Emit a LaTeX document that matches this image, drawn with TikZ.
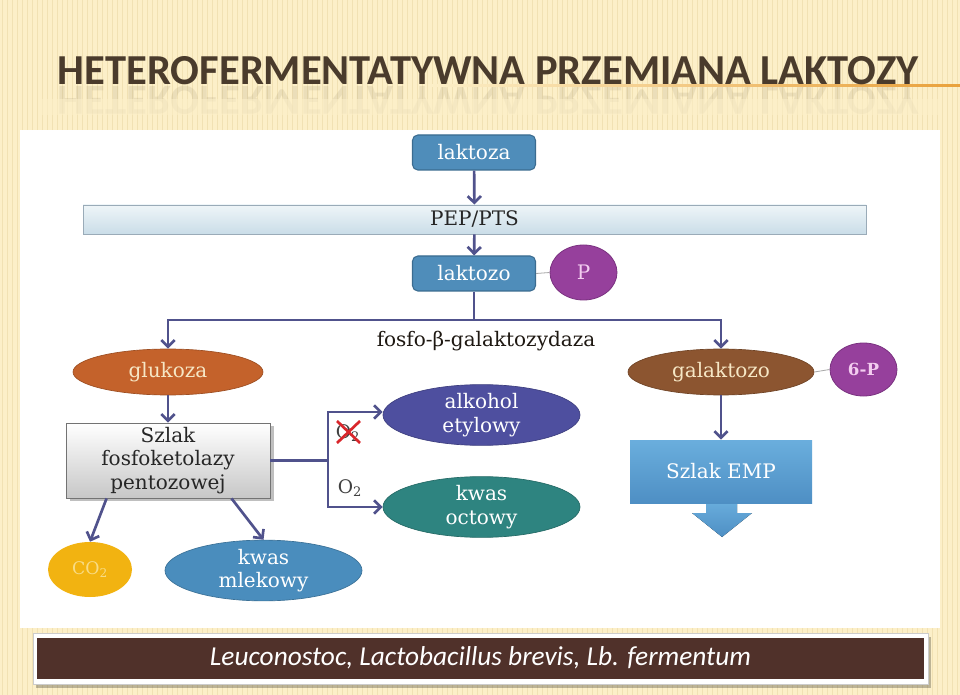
\documentclass[tikz,border=0pt]{standalone}
\usepackage{fontspec}
\setmainfont{DejaVu Serif}
\newfontfamily\titlefont{Carlito}
\usetikzlibrary{shapes.geometric,arrows.meta,calc}
\definecolor{bgc}{HTML}{FCEFC8}
\definecolor{stripec}{HTML}{EBD8A6}
\definecolor{titlec}{HTML}{4A3B2C}
\definecolor{orangel}{HTML}{E9A13B}
\definecolor{arrowc}{HTML}{50528C}
\definecolor{bluebox}{HTML}{4F8DBA}
\definecolor{blueboxd}{HTML}{3B6C90}
\definecolor{purp}{HTML}{96409C}
\definecolor{purpd}{HTML}{7A3280}
\definecolor{purpt}{HTML}{F3CDF0}
\definecolor{gluc}{HTML}{C4622B}
\definecolor{galc}{HTML}{8C5530}
\definecolor{creamt}{HTML}{F6E7C5}
\definecolor{alcc}{HTML}{4E4F9F}
\definecolor{octc}{HTML}{2E8480}
\definecolor{co2c}{HTML}{F2B311}
\definecolor{co2t}{HTML}{F8DC86}
\definecolor{mlekc}{HTML}{4A8DBD}
\definecolor{empt}{HTML}{6AAEDD}
\definecolor{empb}{HTML}{4E8FC4}
\definecolor{pept}{HTML}{EEF5F8}
\definecolor{pepb}{HTML}{CADDE8}
\definecolor{pepd}{HTML}{9AABB8}
\definecolor{bannerc}{HTML}{50312A}
\definecolor{xred}{HTML}{D9262B}
\tikzset{
  lbl/.style={font=\fontsize{15}{17.5}\selectfont, align=center, inner sep=0pt},
  rbox/.style={lbl, rectangle, rounded corners=4pt, fill=bluebox, draw=blueboxd, line width=0.8pt,
     text=white, minimum width=92.25pt, minimum height=26.25pt},
  pcirc/.style={lbl, ellipse, fill=purp, draw=purpd, line width=0.6pt, text=purpt},
  oval/.style={lbl, ellipse, text=creamt},
  arr/.style={draw=arrowc, line width=2pt, -{Straight Barb[length=5pt,width=10pt]}},
  ln/.style={draw=arrowc, line width=2pt},
  thin/.style={draw=gray!70, line width=0.6pt},
}
\begin{document}
\begin{tikzpicture}[x=0.75pt,y=-0.75pt]
\useasboundingbox (0,0) rectangle (960,695);
% background
\fill[bgc] (0,0) rectangle (960,695);
\foreach \xx in {2,7,...,960} \draw[stripec, line width=0.7pt, opacity=0.6] (\xx,0) -- (\xx,695);
% title
\node[inner sep=0pt, text=titlec, opacity=0.09] (titlerefl) at (488,100)
  {\scalebox{1}[-1]{\resizebox{645pt}{21pt}{\titlefont\bfseries HETEROFERMENTATYWNA PRZEMIANA LAKTOZY}}};
\fill[bgc, opacity=0.6] (40,99) rectangle (940,115);
\shade[left color=bgc, right color=orangel] (430,84.5) rectangle (960,87);
\node[inner sep=0pt, text=titlec] (title) at (488,71)
  {\resizebox{645pt}{21pt}{\titlefont\bfseries HETEROFERMENTATYWNA PRZEMIANA LAKTOZY}};
% white panel
\fill[white] (20,130) rectangle (940,628);
% banner
\fill[black, opacity=0.25] (36,637) rectangle (931,688);
\fill[white] (33,633) rectangle (928,684);
\draw[gray!40, line width=0.5pt] (33,633) rectangle (928,684);
\fill[bannerc] (37,637.5) rectangle (924,679);
\node[inner sep=0pt, text=white, font=\titlefont\itshape\fontsize{20.5}{20.5}\selectfont] (banner) at (480.5,658)
  {Leuconostoc, Lactobacillus brevis, Lb. fermentum};
% nodes
\node[rbox] (laktoza) at (474,152.5) {laktoza};
\node[lbl, rectangle, top color=pept, bottom color=pepb, draw=pepd, line width=0.6pt,
  minimum width=587.25pt, minimum height=21.75pt, text=black!85] (pep) at (474.5,219.5) {PEP/PTS};
\node[rbox] (laktozo) at (474,273.5) {laktozo};
\node[pcirc, minimum width=50.25pt, minimum height=41.25pt] (P) at (583.5,272.5) {P};
\node[oval, fill=gluc, draw=gluc!80!black, line width=0.5pt, minimum width=142.5pt, minimum height=34.5pt] (glukoza) at (168,372) {glukoza};
\node[oval, fill=galc, draw=galc!80!black, line width=0.5pt, minimum width=139.5pt, minimum height=34.5pt] (galaktozo) at (721,372) {galaktozo};
\node[pcirc, minimum width=50.25pt, minimum height=39.75pt, font=\bfseries\fontsize{12.5}{14}\selectfont] (sixp) at (863.5,369.5) {6-P};
\node[lbl, text=titlec!40!black] (fosfo) at (486,341) {fosfo-β-galaktozydaza};
\fill[black, opacity=0.25] (70,426) rectangle (274,501);
\node[lbl, rectangle, top color=white, bottom color=black!22, draw=black!55, line width=0.6pt,
  minimum width=153pt, minimum height=56.25pt, text=black!85] (szlak) at (168,460.5)
  {Szlak\\fosfoketolazy\\pentozowej};
\node[oval, fill=alcc, draw=alcc!80!black, line width=0.5pt, text=white, minimum width=147.75pt, minimum height=40.5pt] (alkohol) at (481.5,415) {alkohol\\etylowy};
\node[oval, fill=octc, draw=octc!80!black, line width=0.5pt, text=white, minimum width=147.75pt, minimum height=39pt] (octowy) at (481.5,507) {kwas\\octowy};
\node[oval, fill=co2c, minimum width=63pt, minimum height=41.25pt, text=co2t, font=\fontsize{13}{15}\selectfont] (co2) at (90,569.5) {CO\textsubscript{2}};
\node[oval, fill=mlekc, draw=mlekc!80!black, line width=0.5pt, text=white, minimum width=147.75pt, minimum height=38.25pt] (mlekowy) at (263.5,570.5) {kwas\\mlekowy};
% EMP block arrow
\fill[top color=empt, bottom color=empb] (706,500) -- (737,500) -- (737,513) -- (752,513) -- (722,537) -- (692,513) -- (706,513) -- cycle;
\node[lbl, rectangle, top color=empt, bottom color=empb, minimum width=136.5pt, minimum height=47.25pt, text=white] (emp) at (721,471.5) {Szlak EMP};
% O2 labels
\node[lbl, text=black!75, font=\fontsize{14}{16}\selectfont] (o2x) at (348,433) {O\textsubscript{2}};
\draw[xred, line width=2pt] (337,421) -- (360,443);
\draw[xred, line width=2pt] (337,443) -- (360,421);
\node[lbl, text=black!75, font=\fontsize{14}{16}\selectfont] (o2) at (350,488) {O\textsubscript{2}};
% connectors
\coordinate (split) at (474,320);
\coordinate (fork) at (328,460.5);
\draw[arr] (laktoza) -- (pep);
\draw[arr] (pep) -- (laktozo);
\draw[thin] (laktozo.east) -- (P.west);
\draw[thin] (galaktozo.east) -- (sixp.west);
\draw[ln] (laktozo.south) -- (split);
\draw[arr] (split) -| (glukoza.north);
\draw[arr] (split) -| (galaktozo.north);
\draw[arr] (glukoza) -- (szlak);
\draw[arr] (galaktozo) -- (emp);
\draw[ln] (szlak.east) -- (fork);
\draw[arr] (fork) |- ([yshift=2.25pt]alkohol.west);
\draw[arr] (fork) |- (octowy.west);
\draw[arr] ($(szlak.south west)!0.2!(szlak.south east)$) -- (co2.north);
\draw[arr] ($(szlak.south west)!0.81!(szlak.south east)$) -- (mlekowy.north);
\end{tikzpicture}
\end{document}
